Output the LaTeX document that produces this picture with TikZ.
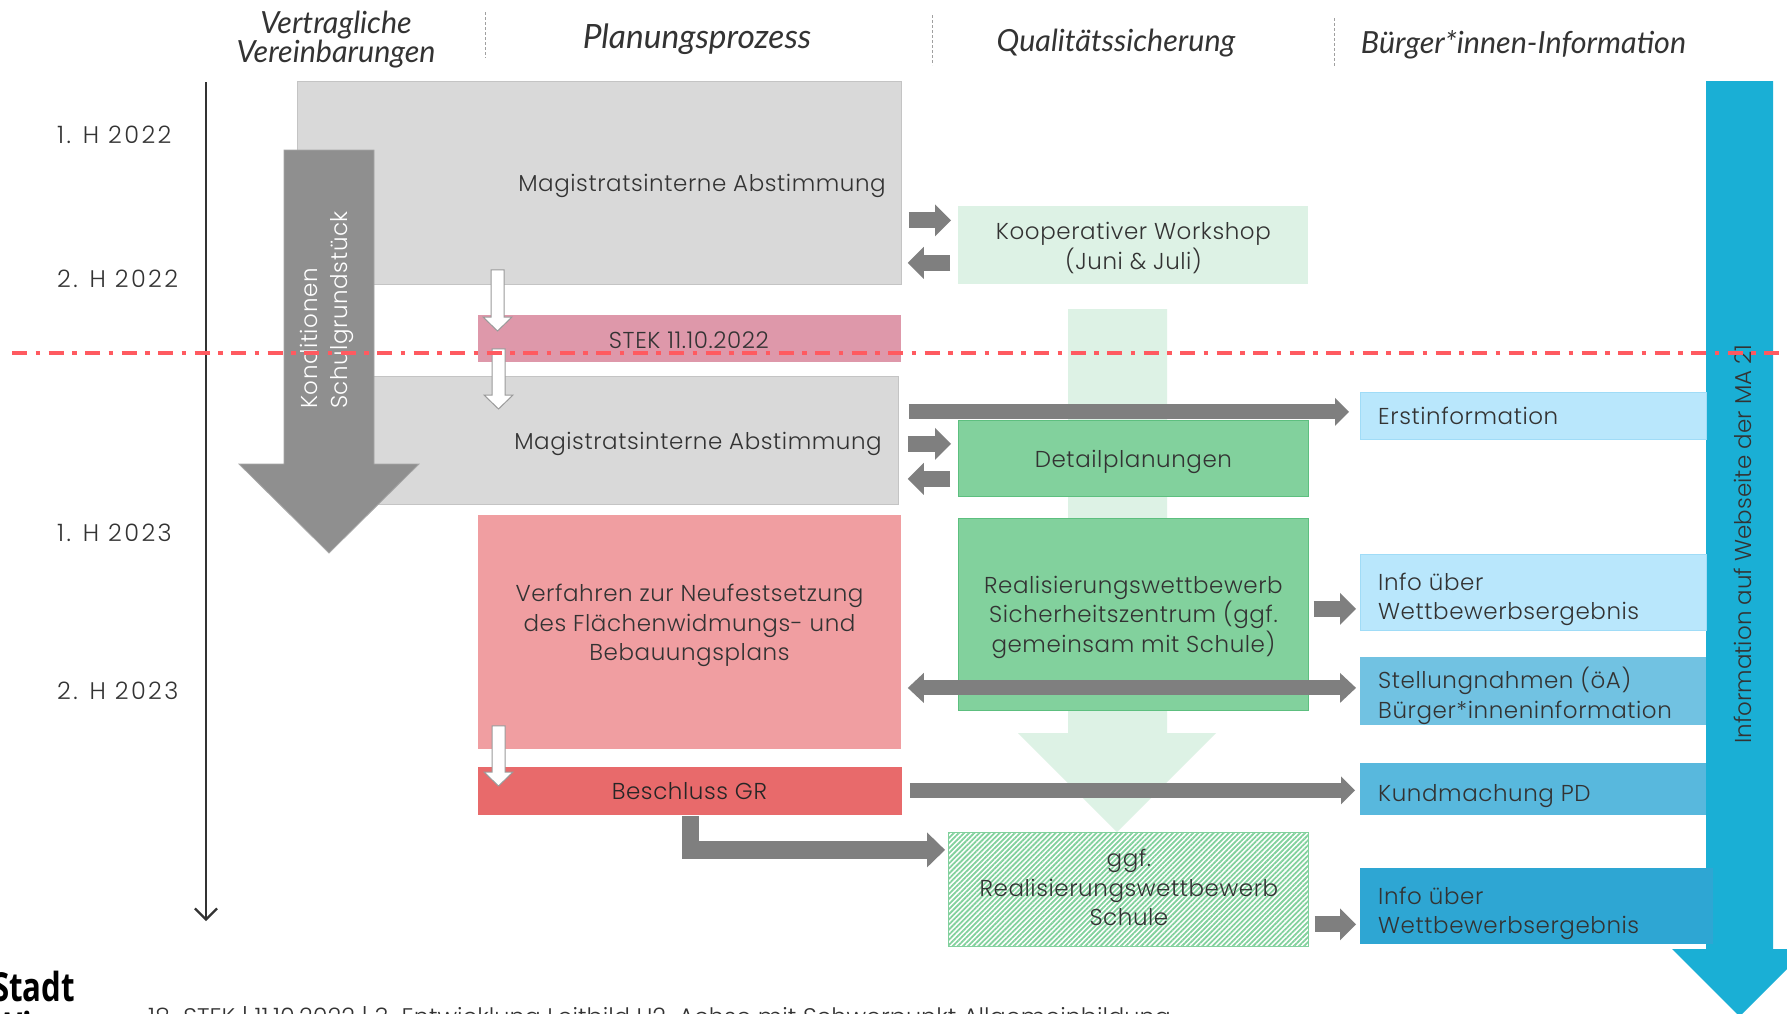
\documentclass[tikz,border=0pt]{standalone}
\usepackage{fontspec}
\IfFontExistsTF{Poppins Light}{%
  \setmainfont{Poppins Light}%
  \newfontfamily\bodyfont{Poppins Light}[LetterSpace=2.5]%
  \newfontfamily\tlfont{Poppins Light}[LetterSpace=10]%
}{%
  \setmainfont{Poppins}%
  \newfontfamily\bodyfont{Poppins}[LetterSpace=2.5]%
  \newfontfamily\tlfont{Poppins}[LetterSpace=10]%
}
\newfontfamily\headfont{Lato}
\newfontfamily\logofont{Open Sans}[FakeStretch=0.78]
\usetikzlibrary{arrows.meta,calc,patterns.meta}
\definecolor{txtc}{HTML}{333333}
\definecolor{lgray}{HTML}{D9D9D9}
\definecolor{lgrayb}{HTML}{C4C4C4}
\definecolor{kgray}{HTML}{8F8F8F}
\definecolor{kgrayb}{HTML}{A6A6A6}
\definecolor{agray}{HTML}{7F7F7F}
\definecolor{wagray}{HTML}{9A9A9A}
\definecolor{stekc}{HTML}{DE98AA}
\definecolor{verfc}{HTML}{F09EA1}
\definecolor{beschc}{HTML}{E86A6B}
\definecolor{lgreen}{HTML}{DDF2E5}
\definecolor{mgreen}{HTML}{82D19D}
\definecolor{mgreenb}{HTML}{5DBF7F}
\definecolor{ltblue}{HTML}{B9E7FC}
\definecolor{ltblueb}{HTML}{A0DCF7}
\definecolor{stellc}{HTML}{71C2E2}
\definecolor{kundc}{HTML}{58B8DD}
\definecolor{infoc}{HTML}{2EA6D3}
\definecolor{barrow}{HTML}{1AAFD5}
\definecolor{redl}{HTML}{FF5A60}
\definecolor{sepc}{HTML}{A0A0A0}
\newcommand\wdown[2]{%
  \filldraw[draw=wagray, fill=white, line width=1pt, line join=miter]
    let \p1=(#1), \p2=(#2) in
    (\x1-6.5pt,\y1) -- (\x1-6.5pt,\y2+14pt) -- (\x1-14.5pt,\y2+14pt) -- (\x1,\y2)
    -- (\x1+14.5pt,\y2+14pt) -- (\x1+6.5pt,\y2+14pt) -- (\x1+6.5pt,\y1) -- cycle;}
\begin{document}
\begin{tikzpicture}[x=1pt,y=-1pt,
  every node/.style={inner sep=0pt, text=txtc},
  body/.style={font=\bodyfont\fontsize{23}{29.5}\selectfont, align=center},
  ltxt/.style={body, align=left, anchor=west},
  head/.style={font=\headfont\itshape\fontsize{30.5}{27.5}\selectfont, align=center},
  tlab/.style={font=\tlfont\fontsize{24}{24}\selectfont, anchor=west},
  bx/.style={anchor=north west, line width=0.8pt},
  blk/.style={draw=agray, line width=16pt, -{Triangle[length=16pt,width=32pt,line width=0pt]}},
  blkl/.style={draw=agray, line width=15pt, -{Triangle[length=14pt,width=28pt,line width=0pt]}},
  blkd/.style={draw=agray, line width=15pt, {Triangle[length=16pt,width=30pt,line width=0pt]}-{Triangle[length=16pt,width=30pt,line width=0pt]}},
  blkL/.style={draw=agray, line width=17.5pt, line join=miter, -{Triangle[length=18pt,width=35pt,line width=0pt]}},
  sepl/.style={draw=sepc, line width=0.8pt, dash pattern=on 3pt off 2pt},
  redline/.style={draw=redl, line width=4.5pt, dash pattern=on 15pt off 8.5pt on 4.5pt off 8.5pt}
]
\useasboundingbox (0,0) rectangle (1787,1013);
\clip (0,0) rectangle (1787,1013);
\fill[white] (0,0) rectangle (1787,1013);

% headers
\node[head] (h1) at (336,40) {Vertragliche\\Vereinbarungen};
\node[head, font=\headfont\itshape\fontsize{33.5}{30}\selectfont] (h2) at (697,39.5) {Planungsprozess};
\node[head] (h3) at (1116,43.5) {Qualitätssicherung};
\node[head] (h4) at (1523.5,44.5) {Bürger*innen-Information};
\draw[sepl] (485,12) -- (485,58);
\draw[sepl] (932,15) -- (932,65);
\draw[sepl] (1334,18) -- (1334,67);

% time axis
\coordinate (tA) at (206,82);
\coordinate (tB) at (206,921);
\draw[draw=txtc, line width=2.2pt, -{Straight Barb[length=11pt,width=22pt,line width=2.2pt]}] (tA) -- (tB);
\node[tlab] (t1) at (57,135) {1. H 2022};
\node[tlab] (t2) at (57,279) {2. H 2022};
\node[tlab] (t3) at (57,533) {1. H 2023};
\node[tlab] (t4) at (57,691) {2. H 2023};

% light green big arrow
\fill[lgreen] (1068,309) -- (1167,309) -- (1167,733) -- (1216,733) -- (1117,832) -- (1018,733) -- (1068,733) -- cycle;

% planning column
\node[bx, fill=lgray, draw=lgrayb, minimum width=604pt, minimum height=203pt] (m1) at (297,81) {};
\node[body] (m1t) at (702,185.5) {Magistratsinterne Abstimmung};
\node[bx, fill=lgray, draw=lgrayb, minimum width=568pt, minimum height=128pt] (m2) at (330,376) {};
\node[body] (m2t) at (698,443.5) {Magistratsinterne Abstimmung};
\node[bx, fill=stekc, minimum width=423pt, minimum height=47pt] (stek) at (478,315) {};
\node[body] (stekt) at ($(stek.center)+(-1,1)$) {STEK 11.10.2022};
\node[bx, fill=verfc, minimum width=423pt, minimum height=234pt] (verf) at (478,515) {};
\node[body] (verft) at (689.5,625.5) {Verfahren zur Neufestsetzung\\des Flächenwidmungs- und\\Bebauungsplans};
\node[bx, fill=beschc, minimum width=424pt, minimum height=48pt] (besch) at (478,767) {};
\node[body, text=black!85] (bescht) at ($(besch.center)+(-1,0)$) {Beschluss GR};

% Konditionen arrow
\filldraw[fill=kgray, draw=kgrayb, line width=0.8pt] (284,150) -- (374,150) -- (374,464) -- (419,464) -- (329,553) -- (239,464) -- (284,464) -- cycle;
\node[body, rotate=90, align=left, text=white] (kond) at (327,310) {Konditionen\\Schulgrundstück};

% quality column
\node[bx, fill=lgreen, minimum width=350pt, minimum height=78pt] (koop) at (958,206) {};
\node[body] (koopt) at ($(koop.center)+(0,2.5)$) {Kooperativer Workshop\\(Juni \& Juli)};
\node[bx, fill=mgreen, draw=mgreenb, minimum width=350pt, minimum height=76pt] (detail) at (958,420) {};
\node[body] (detailt) at ($(detail.center)+(0,3.5)$) {Detailplanungen};
\node[bx, fill=mgreen, draw=mgreenb, minimum width=350pt, minimum height=192pt] (real) at (958,518) {};
\node[body] (realt) at ($(real.center)+(0,3)$) {Realisierungswettbewerb\\Sicherheitszentrum (ggf.\\gemeinsam mit Schule)};
\node[bx, fill=white, minimum width=360pt, minimum height=114pt] (hatchbg) at (948,832) {};
\node[bx, draw=mgreen, line width=1pt, pattern={Lines[angle=45,distance=3.6pt,line width=1.8pt]}, pattern color=mgreen, minimum width=360pt, minimum height=114pt] (hatch) at (948,832) {};
\node[body] (hatcht) at ($(hatch.center)+(0,-2.5)$) {ggf.\\Realisierungswettbewerb\\Schule};

% blue arrow
\fill[barrow] (1706,81) -- (1773,81) -- (1773,949) -- (1807,949) -- (1739.5,1016.5) -- (1672,949) -- (1706,949) -- cycle;
\node[font=\fontsize{23}{29.5}\selectfont, rotate=90] (web) at (1743,544) {Information auf Webseite der MA 21};

% information column
\node[bx, fill=ltblue, draw=ltblueb, minimum width=346pt, minimum height=47pt] (erst) at (1360,392) {};
\node[ltxt] (erstt) at ($(erst.west)+(18,0)$) {Erstinformation};
\node[bx, fill=ltblue, draw=ltblueb, minimum width=346pt, minimum height=76pt] (info1) at (1360,554) {};
\node[ltxt] (info1t) at ($(info1.west)+(18,7)$) {Info über\\Wettbewerbsergebnis};
\node[bx, fill=stellc, minimum width=346pt, minimum height=68pt] (stell) at (1360,657) {};
\node[ltxt] (stellt) at ($(stell.west)+(18,4.5)$) {Stellungnahmen (öA)\\Bürger*inneninformation};
\node[bx, fill=kundc, minimum width=346pt, minimum height=52pt] (kund) at (1360,763) {};
\node[ltxt] (kundt) at ($(kund.west)+(18,7)$) {Kundmachung PD};
\node[bx, fill=infoc, minimum width=353pt, minimum height=76pt] (info2) at (1360,868) {};
\node[ltxt] (info2t) at ($(info2.west)+(18,7)$) {Info über\\Wettbewerbsergebnis};

% white arrows
\coordinate (w1s) at ($(m1.south west)+(200.5,-15)$);
\coordinate (w1e) at ($(stek.north west)+(19.5,16)$);
\wdown{w1s}{w1e}
\coordinate (w2s) at ($(stek.south west)+(20.5,-14)$);
\coordinate (w2e) at ($(m2.north west)+(168.5,33)$);
\wdown{w2s}{w2e}
\coordinate (w3s) at ($(verf.south west)+(20.5,-24)$);
\coordinate (w3e) at ($(besch.north west)+(20.5,19)$);
\wdown{w3s}{w3e}

% gray connectors
\coordinate (k1) at ($(koop.west)+(0,-25)$);
\draw[blk, shorten <=7pt, shorten >=7pt] (k1 -| m1.east) -- (k1);
\coordinate (k2) at ($(koop.west)+(0,17.5)$);
\draw[blk, shorten <=8pt, shorten >=6pt] (k2) -- (k2 -| m1.east);
\coordinate (e1) at ($(erst.west)+(0,-4)$);
\draw[blkl, shorten <=10pt, shorten >=11pt] (e1 -| m2.east) -- (e1);
\coordinate (d1) at ($(detail.west)+(0,-14.5)$);
\draw[blk, shorten <=9pt, shorten >=7pt] (d1 -| m2.east) -- (d1);
\coordinate (d2) at ($(detail.west)+(0,20.5)$);
\draw[blk, shorten <=8pt, shorten >=9pt] (d2) -- (d2 -| m2.east);
\coordinate (r1) at ($(info1.west)+(0,16.5)$);
\draw[blk, shorten <=5pt, shorten >=4pt] (r1 -| real.east) -- (r1);
\coordinate (s1) at ($(stell.west)+(0,-3.5)$);
\draw[blkd, shorten <=6pt, shorten >=4pt] (s1 -| verf.east) -- (s1);
\coordinate (b1) at ($(kund.west)+(0,1)$);
\draw[blkl, shorten <=7pt, shorten >=5pt] (b1 -| besch.east) -- (b1);
\coordinate (h1c) at ($(info2.west)+(0,18)$);
\draw[blk, shorten <=5pt, shorten >=4pt] (h1c -| hatch.east) -- (h1c);
\coordinate (l1) at ($(hatch.west)+(0,-40)$);
\draw[blkL, shorten >=3pt] (besch.south) |- (l1);

% red dash-dot line
\coordinate (rA) at (12,353);
\coordinate (rB) at (1787,353);
\draw[redline] (rA) -- (rB);

% footer
\node[anchor=base west, text=black, font=\logofont\bfseries\fontsize{40}{40}\selectfont] (stadt) at (-8,1001) {Stadt};
\node[anchor=base west, text=black, font=\logofont\bfseries\fontsize{40}{40}\selectfont] (wien) at (-8,1041) {Wien};
\node[anchor=base west, font=\fontsize{24}{24}\selectfont] (foot) at (148,1025) {18. STEK | 11.10.2022 | 3. Entwicklung Leitbild U2-Achse mit Schwerpunkt Allgemeinbildung};
\end{tikzpicture}
\end{document}
